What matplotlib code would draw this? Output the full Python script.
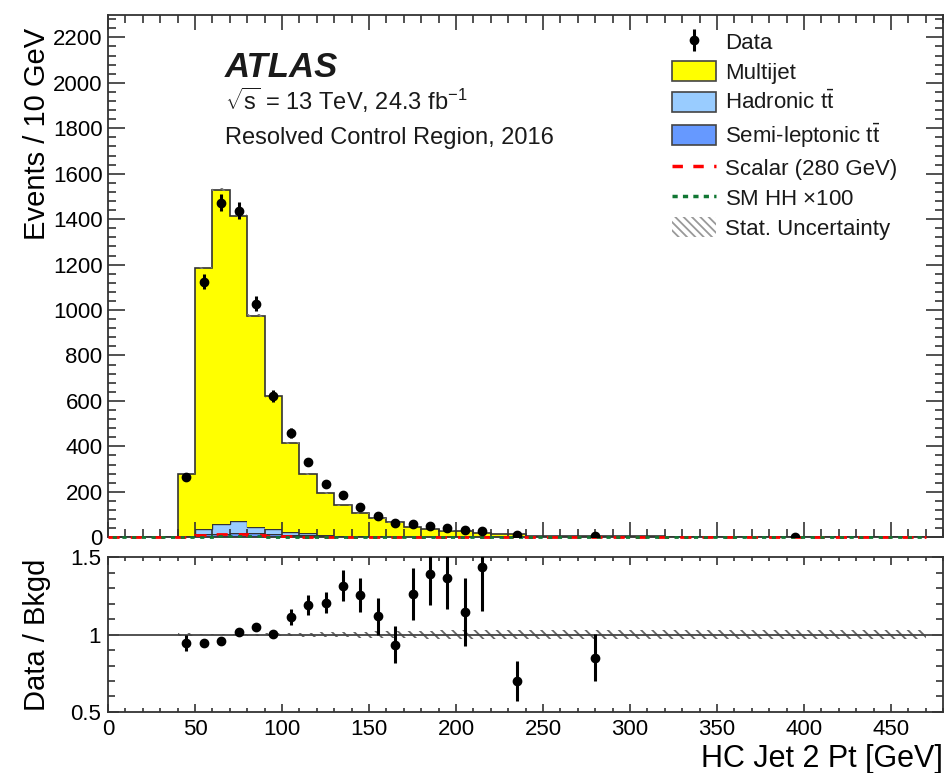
import numpy as np
import matplotlib
matplotlib.use("Agg")
import matplotlib.pyplot as plt
from matplotlib.patches import Patch
from matplotlib.lines import Line2D
from matplotlib.ticker import MultipleLocator

plt.rcParams["font.family"] = ["Liberation Sans", "DejaVu Sans"]
plt.rcParams["mathtext.fontset"] = "custom"
plt.rcParams["mathtext.rm"] = "Liberation Sans"
plt.rcParams["mathtext.it"] = "Liberation Sans:italic"
plt.rcParams["hatch.linewidth"] = 1.3
plt.rcParams["text.color"] = "#1a1a1a"

# binning: 10 GeV up to 240, then two wide bins (normalised to 10 GeV)
edges = [0, 10, 20, 30, 40, 50, 60, 70, 80, 90, 100, 110, 120, 130, 140, 150,
         160, 170, 180, 190, 200, 210, 220, 230, 240, 320, 470]

multijet = [0, 0, 0, 0, 273, 1150, 1470, 1345, 928, 583, 389, 261, 183, 134,
            101, 80, 63, 42, 32, 27, 25.5, 18, 13, 13, 5.5, 0.5]
had_tt = [0, 0, 0, 0, 3, 22, 45, 52, 30, 22, 13, 8, 5, 3,
          2, 1.5, 1, 1, 1, 1, 0.5, 0.5, 0.5, 0.5, 0.1, 0.05]
semi_tt = [0, 0, 0, 0, 4, 13, 15, 18, 17, 15, 12, 9, 6, 4,
           3, 2.5, 2, 2, 1.5, 1, 1, 1, 0.5, 0.5, 0.3, 0.05]
scalar = [0, 0, 0, 0, 3, 10, 14, 14, 10, 6, 4, 3, 2.5, 2,
          2, 1.5, 1.5, 1, 1, 1, 1, 0.8, 0.6, 0.5, 0.3, 0.1]
sm_hh = [0, 0, 0, 0, 1, 3, 4, 4, 3.5, 3, 2.5, 2, 1.5, 1.2,
         1, 0.8, 0.6, 0.5, 0.4, 0.3, 0.3, 0.2, 0.2, 0.1, 0.1, 0.05]
# relative stat. uncertainty on the background
stat_rel = [0, 0, 0, 0, 0.01, 0.005, 0.005, 0.005, 0.006, 0.008, 0.011, 0.013,
            0.015, 0.017, 0.019, 0.021, 0.023, 0.025, 0.026, 0.027, 0.028,
            0.029, 0.03, 0.03, 0.028, 0.028]

data_x = [45, 55, 65, 75, 85, 95, 105, 115, 125, 135, 145, 155, 165, 175,
          185, 195, 205, 215, 235, 280, 395]
data_y = [265, 1125, 1473, 1438, 1028, 622, 459, 331, 234, 185, 132, 93, 62,
          57, 48, 40, 31, 28, 10, 5, 0]
data_err = [16, 34, 38, 38, 32, 25, 21, 18, 15, 14, 11.5, 9.6, 7.9, 7.5,
            6.9, 6.3, 5.6, 5.3, 3.2, 0.8, 0]

ratio_x = [45, 55, 65, 75, 85, 95, 105, 115, 125, 135, 145, 155, 165, 175,
           185, 195, 205, 215, 235, 280]
ratio_y = [0.945, 0.948, 0.962, 1.017, 1.05, 1.003, 1.114, 1.19, 1.207, 1.317,
           1.258, 1.12, 0.934, 1.264, 1.39, 1.368, 1.146, 1.437, 0.698, 0.852]
ratio_err = [0.05, 0.02, 0.015, 0.012, 0.02, 0.025, 0.05, 0.065, 0.07, 0.1,
             0.11, 0.12, 0.12, 0.17, 0.2, 0.2, 0.22, 0.285, 0.13, 0.155]

c_multijet = "#ffff00"
c_had = "#99ccff"
c_semi = "#6699ff"

fig = plt.figure(figsize=(9.48, 7.73), dpi=100)
ax = fig.add_axes([0.114, 0.305, 0.881, 0.676])
axr = fig.add_axes([0.114, 0.079, 0.881, 0.200])

semi = np.array(semi_tt)
had = semi + np.array(had_tt)
tot = had + np.array(multijet)

# stacked backgrounds
ax.stairs(semi, edges, baseline=0, fill=True, facecolor=c_semi, edgecolor="none")
ax.stairs(semi, edges, baseline=None, color="#333333", lw=1)
ax.stairs(had, edges, baseline=semi, fill=True, facecolor=c_had, edgecolor="none")
ax.stairs(had, edges, baseline=None, color="#333333", lw=1)
ax.stairs(tot, edges, baseline=had, fill=True, facecolor=c_multijet, edgecolor="none")
ax.stairs(tot, edges, baseline=None, color="#333333", lw=1.2)

# stat. band on the stack
unc = tot * np.array(stat_rel)
ax.stairs(tot + unc, edges, baseline=tot - unc, fill=True, facecolor="none",
          edgecolor="#777777", hatch="\\\\\\", lw=0)

# signals
ax.stairs(scalar, edges, baseline=None, color="red", lw=2, ls=(0, (4, 4)),
          clip_on=False, zorder=3)
ax.stairs(sm_hh, edges, baseline=None, color="#117733", lw=2, ls=(2, (1.5, 2)),
          clip_on=False, zorder=3)

data_eb = ax.errorbar(data_x, data_y, yerr=data_err, fmt="o", color="black",
                      ms=6, elinewidth=2.2, capsize=0, zorder=4)

ax.set_xlim(0, 480)
ax.set_ylim(0, 2300)
ax.xaxis.set_major_locator(MultipleLocator(50))
ax.xaxis.set_minor_locator(MultipleLocator(10))
ax.yaxis.set_major_locator(MultipleLocator(200))
ax.yaxis.set_minor_locator(MultipleLocator(40))
ax.tick_params(which="both", direction="in", top=True, right=True,
               labelsize=16, labelbottom=False, pad=4, color="#333333")
ax.tick_params(axis="y", which="major", length=12, width=1.2)
ax.tick_params(axis="y", which="minor", length=6, width=1.2)
ax.tick_params(axis="x", which="major", length=11, width=1.2)
ax.tick_params(axis="x", which="minor", length=5.5, width=1.2)
ax.set_ylabel("Events / 10 GeV", fontsize=21, loc="top")
ax.yaxis.set_label_coords(-0.068, 0.975)

ax.text(0.14, 0.881, "ATLAS", transform=ax.transAxes, fontsize=25,
        fontweight="bold", fontstyle="italic")
ax.text(0.14, 0.818,
        r"$\sqrt{\mathregular{s}}$ = 13 TeV, 24.3 fb$^{\mathregular{-1}}$",
        transform=ax.transAxes, fontsize=17)
ax.text(0.14, 0.752, "Resolved Control Region, 2016", transform=ax.transAxes,
        fontsize=17)

handles = [
    data_eb,
    Patch(facecolor=c_multijet, edgecolor="#444444", lw=1.2),
    Patch(facecolor=c_had, edgecolor="#444444", lw=1.2),
    Patch(facecolor=c_semi, edgecolor="#444444", lw=1.2),
    Line2D([], [], color="red", lw=2.5, ls=(0, (3, 3))),
    Line2D([], [], color="#117733", lw=2.5, ls=(0, (1.5, 1.5))),
    Patch(facecolor="none", edgecolor="#999999", hatch="\\\\\\\\", lw=0),
]
labels = ["Data", "Multijet", r"Hadronic t$\bar{\mathregular{t}}$",
          r"Semi-leptonic t$\bar{\mathregular{t}}$", "Scalar (280 GeV)",
          r"SM HH $\times$100", "Stat. Uncertainty"]
leg = ax.legend(handles, labels, loc="upper left", bbox_to_anchor=(0.675, 0.968),
                frameon=False, fontsize=16, handlelength=2.0, handleheight=1.0,
                handletextpad=0.4, labelspacing=0.33, borderpad=0, borderaxespad=0)

# ratio panel
band = np.array(stat_rel)
axr.stairs(1 + band, edges, baseline=1 - band, fill=True, facecolor="none",
           edgecolor="#666666", hatch="\\\\\\", lw=0)
axr.axhline(1, color="#444444", lw=1.3)
axr.errorbar(ratio_x, ratio_y, yerr=ratio_err, fmt="o", color="black", ms=6,
             elinewidth=2.2, capsize=0, zorder=4)
axr.set_xlim(0, 480)
axr.set_ylim(0.5, 1.5)
axr.xaxis.set_major_locator(MultipleLocator(50))
axr.xaxis.set_minor_locator(MultipleLocator(10))
axr.yaxis.set_major_locator(MultipleLocator(0.5))
axr.yaxis.set_minor_locator(MultipleLocator(0.1))
axr.yaxis.set_major_formatter(plt.FuncFormatter(lambda v, p: f"{v:g}"))
axr.tick_params(which="both", direction="in", top=True, right=True,
                labelsize=16, pad=5, color="#333333")
axr.tick_params(axis="x", which="major", length=6, width=1.2)
axr.tick_params(axis="x", which="minor", length=3, width=1.2)
axr.tick_params(axis="y", which="major", length=8, width=1.2)
axr.tick_params(axis="y", which="minor", length=5, width=1.2)
axr.set_ylabel("Data / Bkgd", fontsize=21)
axr.yaxis.set_label_coords(-0.068, 0.5)
axr.set_xlabel("HC Jet 2 Pt [GeV]", fontsize=22, loc="right", labelpad=3)

for a in (ax, axr):
    for s in a.spines.values():
        s.set_linewidth(1.3)
        s.set_color("#333333")

fig.savefig("out.png", dpi=100)
